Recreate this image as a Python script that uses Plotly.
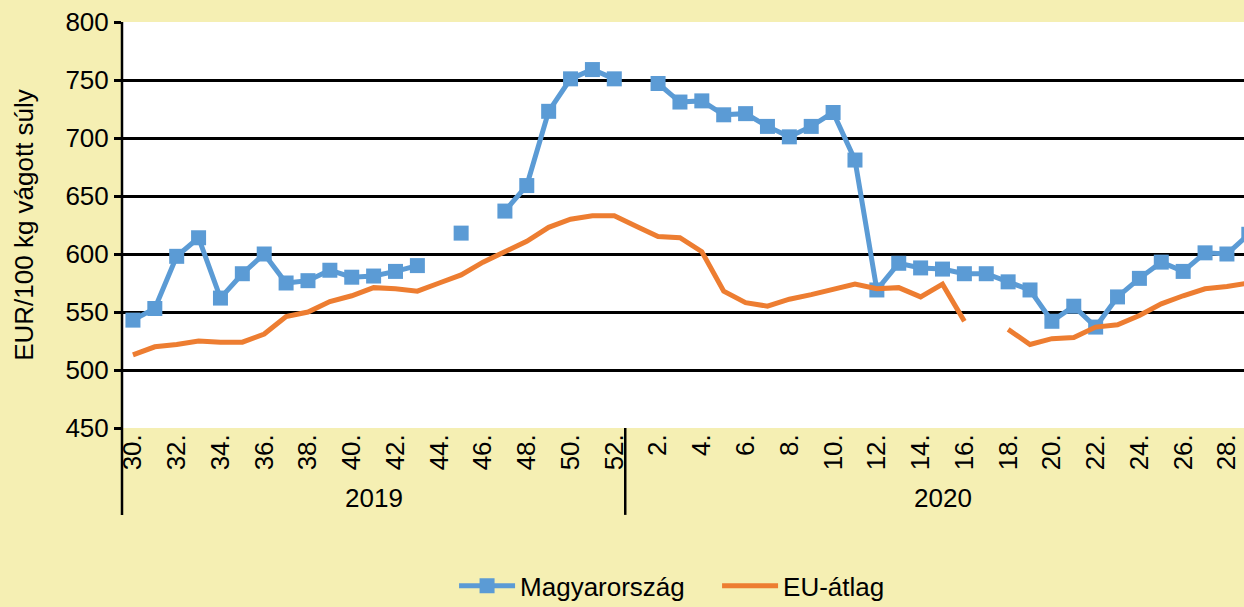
import plotly.graph_objects as go

# Week labels: 2019 weeks 30-52, 2020 weeks 1-29
years = ["2019"] * 23 + ["2020"] * 29
weeks = list(range(30, 53)) + list(range(1, 30))

# Pig carcass prices, EUR/100 kg carcass weight (None = no quotation)
magyarorszag = [
    543, 553, 598, 614, 562, 583, 600, 575, 577, 586, 580, 581, 585, 590,
    None, 618, None, 637, 659, 723, 751, 759, 751,
    None, 747, 731, 732, 720, 721, 710, 701, 710, 722, 681, 569, 592, 588,
    587, 583, 583, 576, 569, 542, 555, 537, 563, 579, 593, 585, 601, 600, 617,
]
eu_atlag = [
    513, 520, 522, 525, 524, 524, 531, 546, 550, 559, 564, 571, 570, 568,
    575, 582, 593, 602, 611, 623, 630, 633, 633,
    624, 615, 614, 602, 568, 558, 555, 561, 565, 570, 574, 570, 571, 563,
    574, 542, None, 535, 522, 527, 528, 537, 539, 547, 557, 564, 570, 572, 575,
]

cats = [f"{y}-{w:02d}" for y, w in zip(years, weeks)]
tick_vals = cats[::2]
tick_text = [f"{w}." for w in weeks[::2]]

BLUE = "#5B9BD5"
ORANGE = "#ED7D31"
BG = "#F5EFB3"
FONT = "Liberation Sans, Arial, sans-serif"
FS = 26

fig = go.Figure()
fig.add_trace(go.Scatter(
    x=cats, y=magyarorszag, name="Magyarország", mode="lines+markers",
    line=dict(color=BLUE, width=5),
    marker=dict(symbol="square", size=15, color=BLUE),
    connectgaps=False,
))
fig.add_trace(go.Scatter(
    x=cats, y=eu_atlag, name="EU-átlag", mode="lines",
    line=dict(color=ORANGE, width=5),
    connectgaps=False,
))

# y-axis line running down through the category label band, and year divider
shapes = [
    dict(type="line", xref="paper", yref="paper", x0=0, x1=0, y0=1, y1=-0.214,
         line=dict(color="black", width=2.5)),
    dict(type="line", xref="x", yref="paper", x0=22.5, x1=22.5, y0=0, y1=-0.214,
         line=dict(color="black", width=2.5)),
]

annotations = [
    dict(text="2019", x=11, xref="x", y=-0.172, yref="paper", showarrow=False,
         yanchor="middle", font=dict(size=FS, color="black", family=FONT)),
    dict(text="2020", x=37, xref="x", y=-0.172, yref="paper", showarrow=False,
         yanchor="middle", font=dict(size=FS, color="black", family=FONT)),
]

fig.update_layout(
    width=1244, height=607,
    margin=dict(l=122, r=0, t=22, b=179, autoexpand=False),
    paper_bgcolor=BG, plot_bgcolor="white",
    font=dict(family=FONT, size=FS, color="black"),
    showlegend=True,
    legend=dict(orientation="h", x=0.365, xref="container", xanchor="left",
                y=0.035, yref="container", yanchor="middle",
                itemwidth=56, entrywidth=192, bgcolor="rgba(0,0,0,0)",
                font=dict(size=FS, color="black")),
    shapes=shapes,
    annotations=annotations,
    xaxis=dict(
        type="category", categoryorder="array", categoryarray=cats,
        range=[-0.5, 50.78],
        tickmode="array", tickvals=tick_vals, ticktext=tick_text,
        tickangle=-90, showgrid=False, showline=False, ticks="",
        zeroline=False, tickfont=dict(size=FS),
    ),
    yaxis=dict(
        range=[450, 800], dtick=50, tick0=450,
        showgrid=True, gridcolor="black", gridwidth=2.5,
        ticks="outside", ticklen=7, tickwidth=2.5, tickcolor="black",
        showline=False, zeroline=False,
        title=dict(text="EUR/100 kg vágott súly", standoff=24,
                   font=dict(size=FS)),
        tickfont=dict(size=FS),
    ),
)

fig.write_html("out.html")
